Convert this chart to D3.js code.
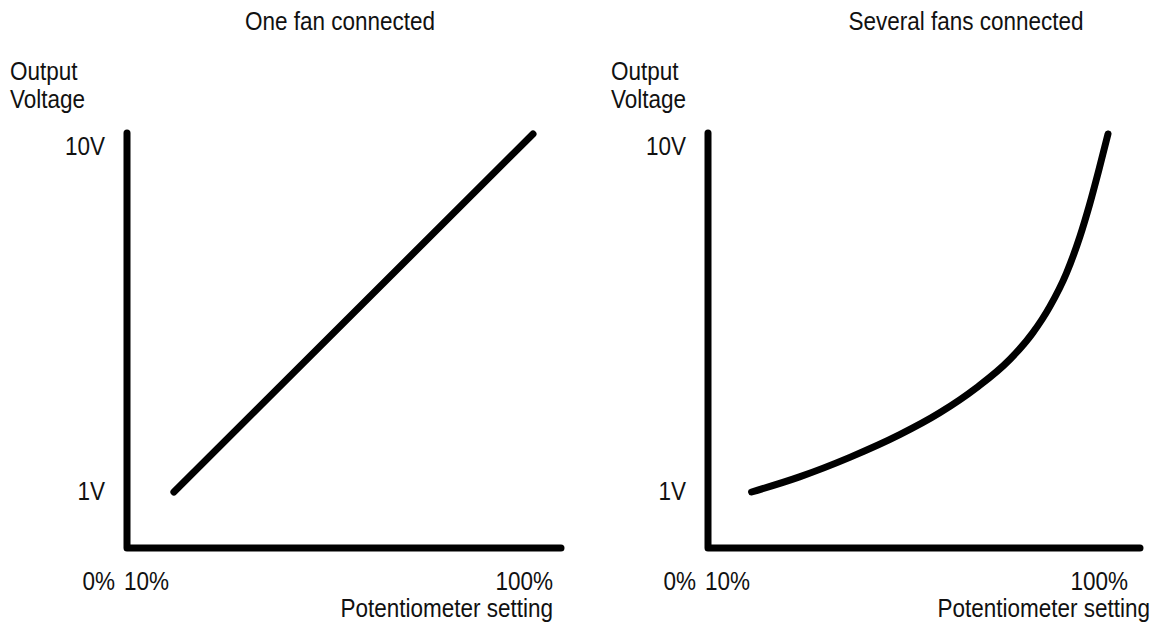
<!DOCTYPE html>
<html>
<head>
<meta charset="utf-8">
<script src="https://cdn.jsdelivr.net/npm/d3@7"></script>
<style>
  html, body { margin: 0; padding: 0; background: #fff; }
  svg { display: block; }
  text { font-family: "Liberation Sans", Arial, sans-serif; fill: #111; }
</style>
</head>
<body>
<svg id="chart" width="1155" height="630"></svg>
<script>
// ---- data ----
const titles = ["One fan connected", "Several fans connected"];
const yTickLabels = ["1V", "10V"];
const yTickValues = [1, 10];
const xTickLabels = ["0%", "10%", "100%"];
const xTickValues = [0, 10, 100];
const yAxisTitle = ["Output", "Voltage"];
const xAxisTitle = "Potentiometer setting";

// One fan: linear from 10% / 1V to 100% / 10V
const oneFanPct = [10, 100];
const oneFanVolt = [1, 10];

// Several fans: curved response
const severalPct  = [10, 22.1, 34.8, 47.4, 57.5, 66.8, 75.2, 81.0, 85.3, 89.5, 92.9, 95.3, 97.7, 100];
const severalVolt = [1.0, 1.38, 1.87, 2.44, 2.99, 3.62, 4.33, 5.0, 5.66, 6.5, 7.42, 8.21, 9.1, 10];

const series = [
  { pct: oneFanPct, volt: oneFanVolt },
  { pct: severalPct, volt: severalVolt }
];

// ---- layout ----
const svg = d3.select("#chart");
const panels = [
  { axisX: 127, x0: 134, x100: 533, labelX: 10, titleX: 340, potRight: 553, hEnd: 561 },
  { axisX: 708, x0: 712, x100: 1108, labelX: 611, titleX: 966, potRight: 1150, hEnd: 1140 }
];
const axisTop = 133, axisBottom = 548;
const yScale = d3.scaleLinear().domain([1, 10]).range([492, 134]);
const SX = 0.9; // horizontal condensing of the lettering
const FS = 25;

function txt(g, s, x, y, anchor) {
  g.append("text")
    .attr("transform", `translate(${x},${y}) scale(${SX},1)`)
    .attr("text-anchor", anchor || "start")
    .attr("font-size", FS)
    .text(s);
}

panels.forEach((p, i) => {
  const g = svg.append("g");
  const xScale = d3.scaleLinear().domain([0, 100]).range([p.x0, p.x100]);

  // title
  txt(g, titles[i], p.titleX, 30, "middle");

  // y axis title
  txt(g, yAxisTitle[0], p.labelX, 80, "start");
  txt(g, yAxisTitle[1], p.labelX, 108, "start");

  // axes (thick L shape)
  g.append("path")
    .attr("d", `M${p.axisX},${axisTop} L${p.axisX},${axisBottom} L${p.hEnd},${axisBottom}`)
    .attr("fill", "none")
    .attr("stroke", "#000")
    .attr("stroke-width", 7)
    .attr("stroke-linecap", "round")
    .attr("stroke-linejoin", "round");

  // y tick labels
  yTickValues.forEach((v, k) => {
    txt(g, yTickLabels[k], p.axisX - 22, yScale(v) + (k === 1 ? 21 : 8), "end");
  });

  // x tick labels
  const xOff = [ -12, -3, 20 ];
  const xAnchor = ["end", "start", "end"];
  xTickValues.forEach((v, k) => {
    const base = k === 2 ? xScale(v) : p.axisX;
    txt(g, xTickLabels[k], base + xOff[k], 590, xAnchor[k]);
  });

  // x axis title
  txt(g, xAxisTitle, p.potRight, 617, "end");

  // data line
  const s = series[i];
  const pts = s.pct.map((d, k) => [d, s.volt[k]]);
  const line = d3.line()
    .x(d => xScale(d[0]))
    .y(d => yScale(d[1]))
    .curve(i === 0 ? d3.curveLinear : d3.curveMonotoneX);
  g.append("path")
    .attr("d", line(pts))
    .attr("fill", "none")
    .attr("stroke", "#000")
    .attr("stroke-width", 7)
    .attr("stroke-linecap", "round");
});
</script>
</body>
</html>
